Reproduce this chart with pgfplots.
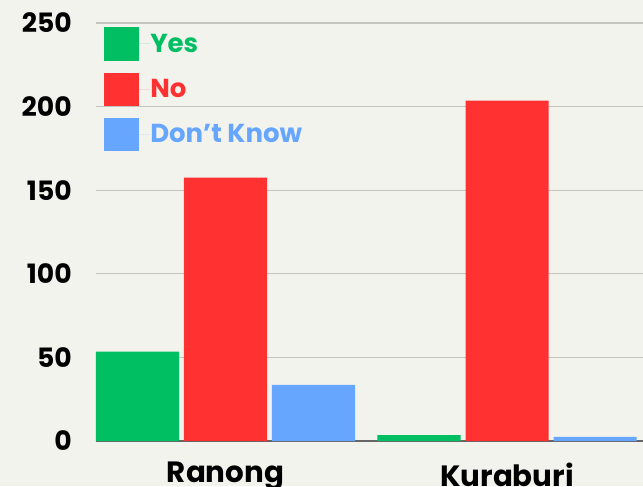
\documentclass[border=0pt]{standalone}
\usepackage{pgfplots}
\pgfplotsset{compat=1.18}
\usepackage{fontspec}
\setmainfont{Poppins}
\definecolor{bg}{HTML}{F3F3EE}
\definecolor{cyes}{HTML}{00BF63}
\definecolor{cno}{HTML}{FF3131}
\definecolor{cdk}{HTML}{66A6FF}
\definecolor{gridc}{HTML}{C4C4BE}
\begin{document}
\begin{tikzpicture}[x=1pt,y=1pt]
\fill[bg] (-72pt,-33.75pt) rectangle (410.25pt,330.75pt);
\useasboundingbox (-72pt,-33.75pt) rectangle (410.25pt,330.75pt);
\begin{axis}[
  at={(0pt,0pt)}, anchor=south west,
  scale only axis, width=410.25pt, height=313.5pt,
  xmin=-0.46, xmax=1.483, ymin=0, ymax=250,
  ybar, bar width=0.295,
  xtick={0,1}, xticklabels={Ranong,\raisebox{-3pt}{Kuraburi}},
  ytick={50,100,150,200,250},
  extra y ticks={0}, extra y tick labels={0},
  extra y tick style={grid style={draw=black!60, line width=1pt}},
  ymajorgrids, grid style={draw=gridc, line width=0.9pt},
  axis line style={draw=none}, tick style={draw=none},
  /pgf/number format/assume math mode=true,
  ticklabel style={font=\fontsize{20}{22}\selectfont\bfseries, text=black},
  yticklabel style={anchor=east, inner sep=0pt, xshift=-18pt},
  xticklabel style={anchor=base, inner sep=0pt, yshift=-26.5pt, font=\fontsize{22}{24}\selectfont\bfseries},
  legend style={at={(0.0146,0.99)}, anchor=north west, draw=none, fill=none,
    inner sep=0pt, row sep=9pt, font=\fontsize{19.5}{21}\selectfont\bfseries,
    nodes={inner sep=0pt, anchor=west}},
  legend cell align=left,
  legend image code/.code={\fill[#1] (0pt,-12.4pt) rectangle (26.25pt,12.4pt); \path (0pt,0pt) -- (34.5pt,0pt);},
  clip=false,
]
\addplot[fill=cyes, draw=none, bar shift=-0.3126] coordinates {(0,53.5) (1,3.5)};
\addplot[fill=cno, draw=none, bar shift=0] coordinates {(0,157.5) (1,203.5)};
\addplot[fill=cdk, draw=none, bar shift=0.3126] coordinates {(0,33.5) (1,2.5)};
\legend{\textcolor{cyes}{Yes},\textcolor{cno}{No},\textcolor{cdk}{Don’t Know}}
\end{axis}
\end{tikzpicture}
\end{document}
